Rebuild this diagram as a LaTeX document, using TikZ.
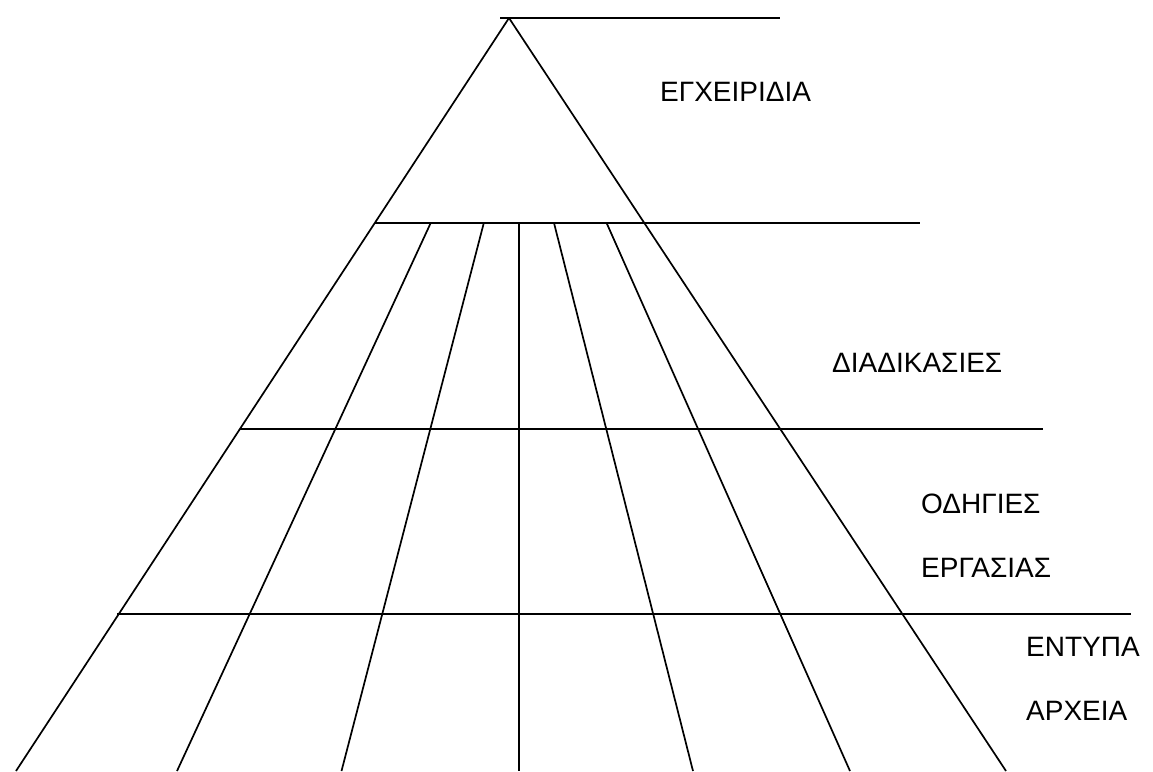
\documentclass[tikz,border=0pt]{standalone}
\usepackage{fontspec}
\setmainfont{Liberation Sans}
\begin{document}
\begin{tikzpicture}[x=1pt,y=-1pt,
  ln/.style={line width=1.7pt,black},
  lbl/.style={anchor=west,inner sep=0pt,font=\fontsize{28}{30}\selectfont}]
\useasboundingbox (0,0) rectangle (1153,771);
% key points
\coordinate (apex) at (509,18);
\coordinate (topR) at (780,18);
\coordinate (topL) at (500,18);
\coordinate (bl) at (16,771);
\coordinate (br) at (1006,771);
% left and right edges
\draw[ln] (apex) -- (bl);
\draw[ln] (apex) -- (br);
% top line
\draw[ln] (topL) -- (topR);
% horizontal levels
\coordinate (h1l) at (375,223); \coordinate (h1r) at (920,223);
\coordinate (h2l) at (240,429); \coordinate (h2r) at (1043,429);
\coordinate (h3l) at (117,614); \coordinate (h3r) at (1131,614);
\draw[ln] (h1l) -- (h1r);
\draw[ln] (h2l) -- (h2r);
\draw[ln] (h3l) -- (h3r);
% inner dividers
\coordinate (a1) at (430.7,223); \coordinate (b1) at (177,771);
\coordinate (a2) at (483.8,223); \coordinate (b2) at (341.5,771);
\coordinate (a3) at (519,223);   \coordinate (b3) at (519,771);
\coordinate (a4) at (554,223);   \coordinate (b4) at (693,771);
\coordinate (a5) at (606.6,223); \coordinate (b5) at (850,771);
\foreach \i in {1,...,5} {\draw[ln] (a\i) -- (b\i);}
% labels
\node[lbl] (t1) at (660,92) {ΕΓΧΕΙΡΙΔΙΑ};
\node[lbl] (t2) at (832,363) {ΔΙΑΔΙΚΑΣΙΕΣ};
\node[lbl] (t3) at (921,504) {ΟΔΗΓΙΕΣ};
\node[lbl] (t4) at (921,568) {ΕΡΓΑΣΙΑΣ};
\node[lbl] (t5) at (1026,647) {ΕΝΤΥΠΑ};
\node[lbl] (t6) at (1026,711) {ΑΡΧΕΙΑ};
\end{tikzpicture}
\end{document}
